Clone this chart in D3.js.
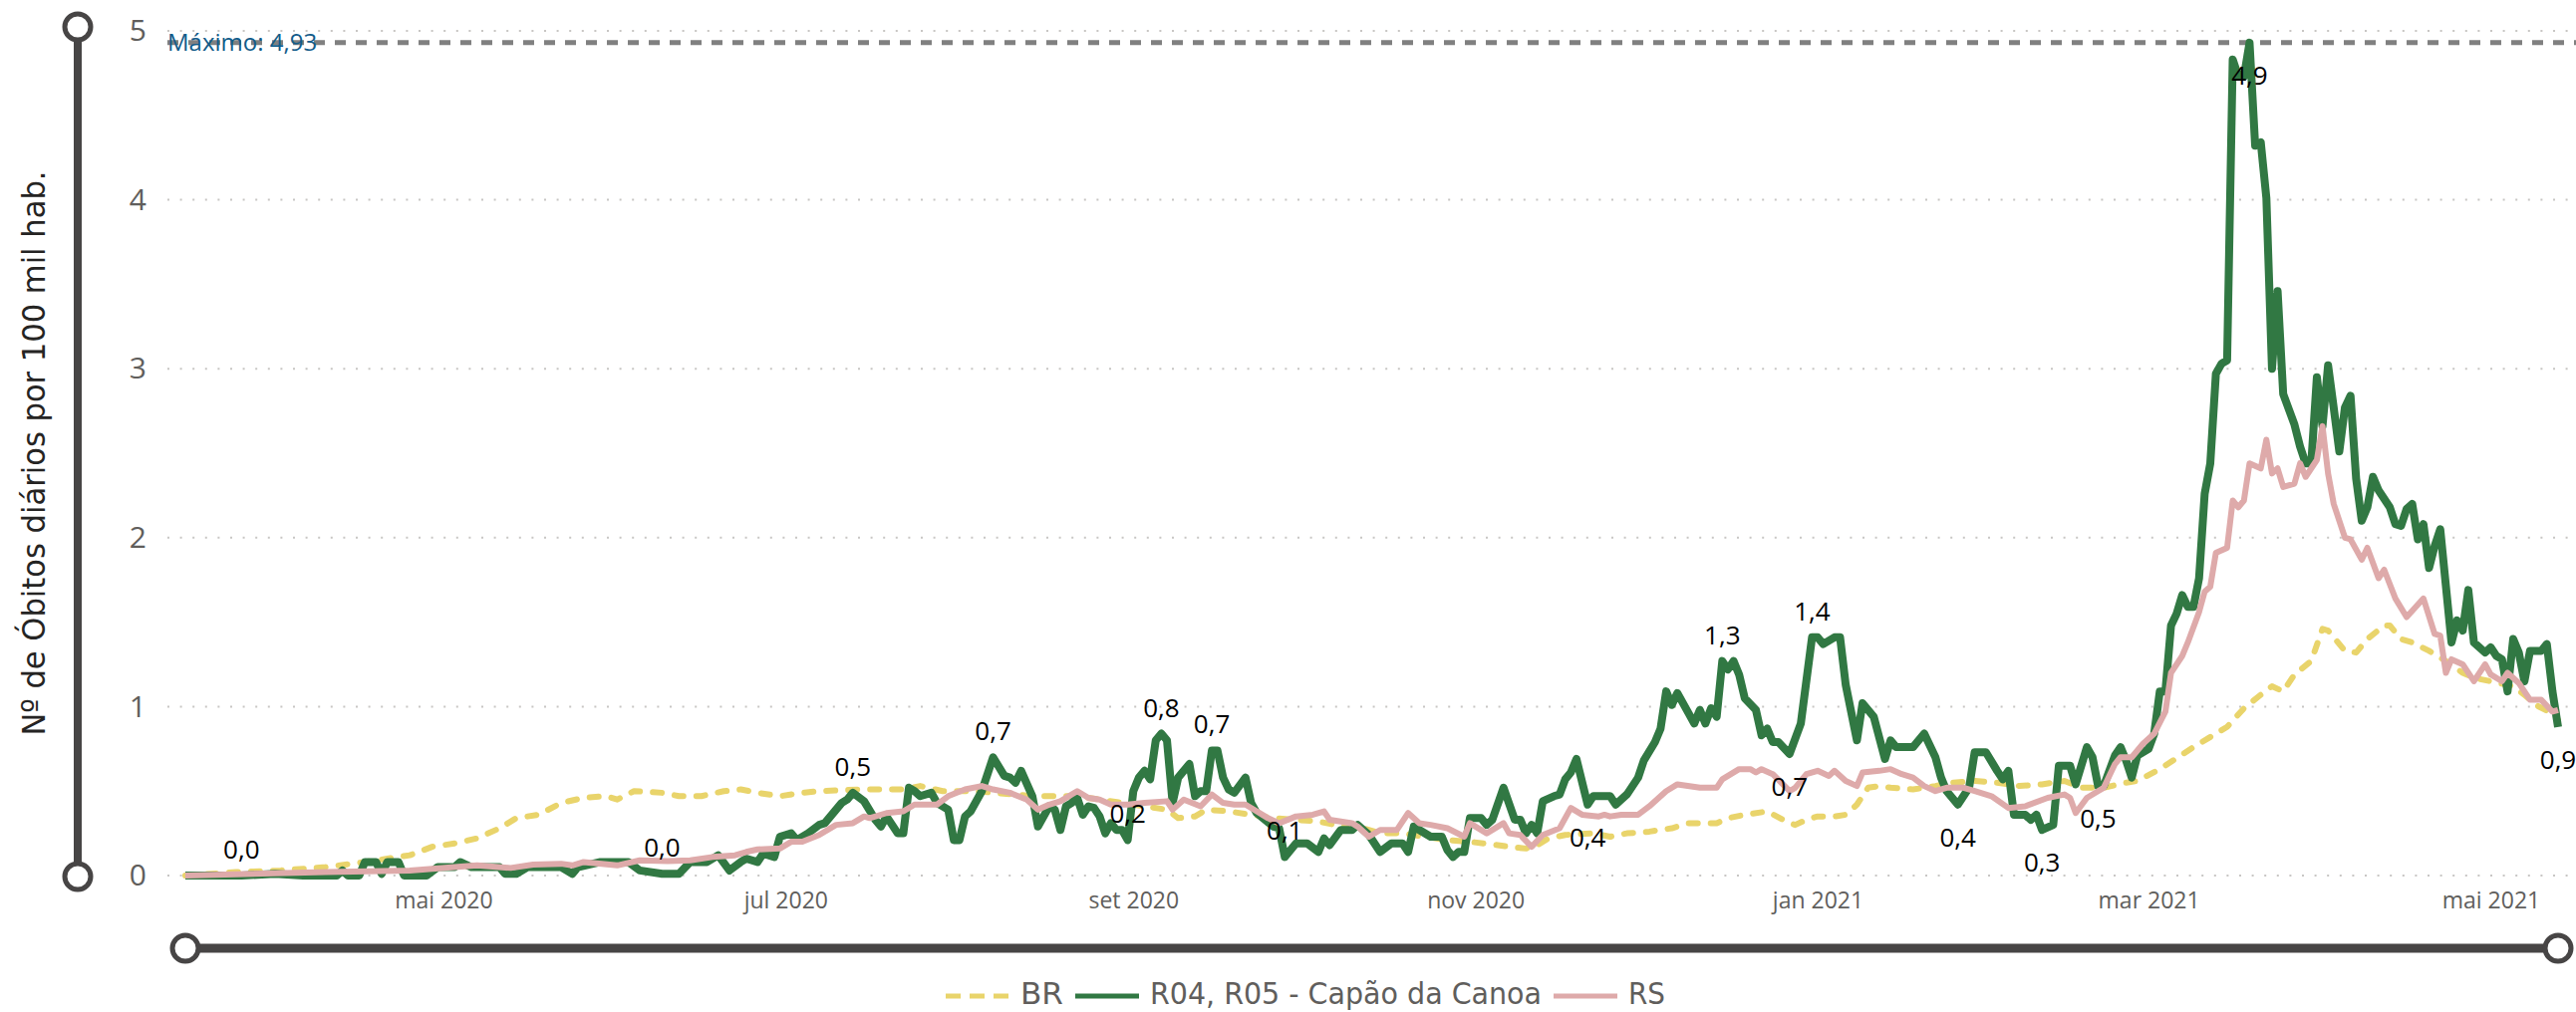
<!DOCTYPE html>
<head>
<meta charset="utf-8">
<script src="https://d3js.org/d3.v7.min.js"></script>
<style>
    body { margin: 0; background: #fff; }
    svg text { font-family: "Open Sans", "Noto Sans", sans-serif; }
    .y-tick text { font-size: 30px; fill: #605E5C; }
    .x-tick text { font-size: 23px; fill: #605E5C; }
    .grid-line { stroke: #C8C6C4; stroke-width: 2; stroke-dasharray: 2, 10.6; }
    .max-line { stroke: #808080; stroke-width: 5; stroke-dasharray: 11, 10; }
    .max-label { font-size: 24px; fill: #135C8A; }
    .data-label { font-size: 26px; fill: #000; text-anchor: middle; }
    .axis-title, .legend text {
        font-family: "Liberation Sans Narrow", "DejaVu Sans Condensed", "Roboto", sans-serif;
        font-stretch: condensed;
    }
    .axis-title { font-size: 32px; fill: #252423; }
    .legend text { font-size: 31px; fill: #605E5C; }
    .slider line { stroke: #474545; }
    .slider circle { fill: #fff; stroke: #474545; stroke-width: 5; }
</style>
</head>
<body>
<script>
    // daily deaths per 100k: [date, value]
    var serieBR = [
        ["2020-03-16",0.00],["2020-03-25",0.02],["2020-04-02",0.03],["2020-04-10",0.05],["2020-04-17",0.08],
        ["2020-04-25",0.12],["2020-04-29",0.17],["2020-05-03",0.19],["2020-05-07",0.22],["2020-05-11",0.28],
        ["2020-05-14",0.34],["2020-05-18",0.36],["2020-05-22",0.43],["2020-05-26",0.46],["2020-05-30",0.47],
        ["2020-06-01",0.45],["2020-06-04",0.50],["2020-06-09",0.49],["2020-06-12",0.47],["2020-06-16",0.47],
        ["2020-06-20",0.50],["2020-06-23",0.51],["2020-06-26",0.49],["2020-06-30",0.47],["2020-07-04",0.49],
        ["2020-07-07",0.50],["2020-07-15",0.51],["2020-07-22",0.51],["2020-07-25",0.53],["2020-07-29",0.50],
        ["2020-08-01",0.50],["2020-08-04",0.50],["2020-08-07",0.49],["2020-08-11",0.48],["2020-08-14",0.47],
        ["2020-08-18",0.47],["2020-08-22",0.47],["2020-08-26",0.45],["2020-08-30",0.43],["2020-09-03",0.41],
        ["2020-09-07",0.39],["2020-09-09",0.34],["2020-09-12",0.35],["2020-09-14",0.39],["2020-09-18",0.38],
        ["2020-09-22",0.36],["2020-09-26",0.34],["2020-09-30",0.33],["2020-10-04",0.32],["2020-10-07",0.30],
        ["2020-10-12",0.28],["2020-10-15",0.25],["2020-10-19",0.25],["2020-10-23",0.23],["2020-10-27",0.21],
        ["2020-10-31",0.20],["2020-11-05",0.18],["2020-11-07",0.17],["2020-11-10",0.16],["2020-11-12",0.18],
        ["2020-11-14",0.22],["2020-11-17",0.24],["2020-11-22",0.25],["2020-11-25",0.23],["2020-11-28",0.25],
        ["2020-12-02",0.26],["2020-12-06",0.28],["2020-12-09",0.31],["2020-12-14",0.31],["2020-12-16",0.34],
        ["2020-12-19",0.36],["2020-12-23",0.38],["2020-12-27",0.31],["2020-12-28",0.30],["2020-12-30",0.33],
        ["2021-01-01",0.35],["2021-01-04",0.35],["2021-01-06",0.36],["2021-01-08",0.42],["2021-01-10",0.52],
        ["2021-01-12",0.53],["2021-01-14",0.52],["2021-01-18",0.51],["2021-01-22",0.53],["2021-01-25",0.55],
        ["2021-01-29",0.56],["2021-02-02",0.55],["2021-02-06",0.53],["2021-02-10",0.54],["2021-02-14",0.56],
        ["2021-02-17",0.52],["2021-02-21",0.52],["2021-02-25",0.55],["2021-02-27",0.56],["2021-03-03",0.63],
        ["2021-03-09",0.76],["2021-03-15",0.88],["2021-03-18",0.99],["2021-03-21",1.07],["2021-03-23",1.12],
        ["2021-03-25",1.09],["2021-03-27",1.19],["2021-03-30",1.27],["2021-04-01",1.46],["2021-04-02",1.45],
        ["2021-04-05",1.33],["2021-04-07",1.32],["2021-04-09",1.40],["2021-04-12",1.48],["2021-04-13",1.48],
        ["2021-04-15",1.40],["2021-04-17",1.38],["2021-04-20",1.33],["2021-04-23",1.27],["2021-04-26",1.20],
        ["2021-04-28",1.17],["2021-05-01",1.15],["2021-05-05",1.12],["2021-05-07",1.07],["2021-05-09",1.01],
        ["2021-05-12",0.96],["2021-05-13",0.92]
    ];

    var serieR04 = [
        ["2020-03-16",0.00],["2020-03-26",0.00],["2020-04-01",0.01],["2020-04-06",0.00],["2020-04-12",0.00],
        ["2020-04-13",0.03],["2020-04-14",0.00],["2020-04-16",0.00],["2020-04-17",0.08],["2020-04-19",0.08],
        ["2020-04-20",0.01],["2020-04-21",0.08],["2020-04-23",0.08],["2020-04-24",0.00],["2020-04-28",0.00],
        ["2020-04-30",0.05],["2020-05-03",0.05],["2020-05-04",0.08],["2020-05-06",0.05],["2020-05-11",0.05],
        ["2020-05-12",0.01],["2020-05-14",0.01],["2020-05-16",0.05],["2020-05-22",0.05],["2020-05-24",0.01],
        ["2020-05-25",0.05],["2020-05-29",0.08],["2020-06-03",0.08],["2020-06-05",0.03],["2020-06-09",0.01],
        ["2020-06-12",0.01],["2020-06-14",0.08],["2020-06-17",0.08],["2020-06-19",0.12],["2020-06-21",0.03],
        ["2020-06-23",0.08],["2020-06-24",0.10],["2020-06-26",0.08],["2020-06-27",0.13],["2020-06-29",0.11],
        ["2020-06-30",0.23],["2020-07-02",0.25],["2020-07-03",0.21],["2020-07-05",0.25],["2020-07-07",0.30],
        ["2020-07-08",0.31],["2020-07-11",0.43],["2020-07-12",0.45],["2020-07-13",0.49],["2020-07-15",0.44],
        ["2020-07-17",0.33],["2020-07-18",0.29],["2020-07-19",0.35],["2020-07-21",0.25],["2020-07-22",0.25],
        ["2020-07-23",0.52],["2020-07-24",0.50],["2020-07-25",0.47],["2020-07-27",0.49],["2020-07-28",0.43],
        ["2020-07-30",0.39],["2020-07-31",0.21],["2020-08-01",0.21],["2020-08-02",0.35],["2020-08-03",0.38],
        ["2020-08-05",0.50],["2020-08-07",0.70],["2020-08-09",0.59],["2020-08-10",0.58],["2020-08-11",0.55],
        ["2020-08-12",0.62],["2020-08-14",0.47],["2020-08-15",0.29],["2020-08-17",0.41],["2020-08-18",0.39],
        ["2020-08-19",0.27],["2020-08-20",0.41],["2020-08-21",0.43],["2020-08-22",0.46],["2020-08-23",0.36],
        ["2020-08-24",0.41],["2020-08-25",0.40],["2020-08-26",0.35],["2020-08-27",0.25],["2020-08-28",0.31],
        ["2020-08-29",0.27],["2020-08-30",0.27],["2020-08-31",0.21],["2020-09-01",0.50],["2020-09-02",0.58],
        ["2020-09-03",0.62],["2020-09-04",0.57],["2020-09-05",0.80],["2020-09-06",0.84],["2020-09-07",0.80],
        ["2020-09-08",0.43],["2020-09-09",0.58],["2020-09-11",0.66],["2020-09-12",0.47],["2020-09-13",0.50],
        ["2020-09-14",0.50],["2020-09-15",0.74],["2020-09-16",0.74],["2020-09-17",0.58],["2020-09-18",0.51],
        ["2020-09-19",0.49],["2020-09-21",0.58],["2020-09-22",0.43],["2020-09-23",0.37],["2020-09-26",0.29],
        ["2020-09-27",0.28],["2020-09-28",0.11],["2020-09-30",0.19],["2020-10-02",0.19],["2020-10-04",0.14],
        ["2020-10-05",0.22],["2020-10-06",0.18],["2020-10-08",0.27],["2020-10-10",0.27],["2020-10-11",0.30],
        ["2020-10-13",0.24],["2020-10-15",0.14],["2020-10-17",0.19],["2020-10-19",0.19],["2020-10-20",0.14],
        ["2020-10-21",0.29],["2020-10-22",0.27],["2020-10-24",0.23],["2020-10-26",0.23],["2020-10-27",0.15],
        ["2020-10-28",0.11],["2020-10-29",0.14],["2020-10-30",0.14],["2020-10-31",0.34],["2020-11-02",0.34],
        ["2020-11-03",0.30],["2020-11-04",0.33],["2020-11-06",0.52],["2020-11-08",0.33],["2020-11-09",0.33],
        ["2020-11-10",0.25],["2020-11-11",0.30],["2020-11-12",0.25],["2020-11-13",0.44],["2020-11-15",0.47],
        ["2020-11-16",0.48],["2020-11-17",0.57],["2020-11-18",0.61],["2020-11-19",0.69],["2020-11-21",0.42],
        ["2020-11-22",0.47],["2020-11-25",0.47],["2020-11-26",0.42],["2020-11-28",0.48],["2020-11-30",0.58],
        ["2020-12-01",0.68],["2020-12-03",0.79],["2020-12-04",0.87],["2020-12-05",1.09],["2020-12-06",1.01],
        ["2020-12-07",1.08],["2020-12-09",0.96],["2020-12-10",0.90],["2020-12-11",0.98],["2020-12-12",0.90],
        ["2020-12-13",0.99],["2020-12-14",0.94],["2020-12-15",1.27],["2020-12-16",1.22],["2020-12-17",1.27],
        ["2020-12-18",1.19],["2020-12-19",1.05],["2020-12-21",0.98],["2020-12-22",0.83],["2020-12-23",0.87],
        ["2020-12-24",0.79],["2020-12-25",0.79],["2020-12-27",0.72],["2020-12-29",0.90],["2020-12-31",1.41],
        ["2021-01-01",1.41],["2021-01-02",1.37],["2021-01-04",1.41],["2021-01-05",1.41],["2021-01-06",1.13],
        ["2021-01-08",0.80],["2021-01-09",1.02],["2021-01-11",0.94],["2021-01-13",0.69],["2021-01-14",0.80],
        ["2021-01-15",0.76],["2021-01-18",0.76],["2021-01-20",0.84],["2021-01-22",0.70],["2021-01-23",0.58],
        ["2021-01-24",0.50],["2021-01-26",0.42],["2021-01-28",0.52],["2021-01-29",0.73],["2021-01-31",0.73],
        ["2021-02-02",0.62],["2021-02-03",0.57],["2021-02-04",0.62],["2021-02-05",0.36],["2021-02-07",0.36],
        ["2021-02-08",0.33],["2021-02-09",0.36],["2021-02-10",0.27],["2021-02-12",0.30],["2021-02-13",0.65],
        ["2021-02-15",0.65],["2021-02-16",0.54],["2021-02-18",0.76],["2021-02-19",0.70],["2021-02-20",0.53],
        ["2021-02-21",0.53],["2021-02-23",0.71],["2021-02-24",0.76],["2021-02-25",0.68],["2021-02-26",0.58],
        ["2021-02-27",0.71],["2021-03-01",0.75],["2021-03-02",0.84],["2021-03-03",1.09],["2021-03-04",1.09],
        ["2021-03-05",1.48],["2021-03-06",1.55],["2021-03-07",1.66],["2021-03-08",1.59],["2021-03-09",1.59],
        ["2021-03-10",1.76],["2021-03-11",2.26],["2021-03-12",2.44],["2021-03-13",2.97],["2021-03-14",3.03],
        ["2021-03-15",3.05],["2021-03-16",4.83],["2021-03-17",4.73],["2021-03-18",4.73],["2021-03-19",4.93],
        ["2021-03-20",4.32],["2021-03-21",4.34],["2021-03-22",4.01],["2021-03-23",3.00],["2021-03-24",3.46],
        ["2021-03-25",2.85],["2021-03-27",2.67],["2021-03-28",2.54],["2021-03-29",2.44],["2021-03-30",2.44],
        ["2021-03-31",2.95],["2021-04-01",2.66],["2021-04-02",3.02],["2021-04-03",2.77],["2021-04-04",2.51],
        ["2021-04-05",2.77],["2021-04-06",2.84],["2021-04-07",2.35],["2021-04-08",2.10],["2021-04-09",2.18],
        ["2021-04-10",2.36],["2021-04-11",2.28],["2021-04-13",2.18],["2021-04-14",2.08],["2021-04-15",2.07],
        ["2021-04-16",2.17],["2021-04-17",2.20],["2021-04-18",1.99],["2021-04-19",2.08],["2021-04-20",1.82],
        ["2021-04-21",1.95],["2021-04-22",2.05],["2021-04-24",1.38],["2021-04-25",1.51],["2021-04-26",1.45],
        ["2021-04-27",1.69],["2021-04-28",1.38],["2021-04-30",1.32],["2021-05-01",1.35],["2021-05-02",1.30],
        ["2021-05-03",1.28],["2021-05-04",1.09],["2021-05-05",1.40],["2021-05-06",1.32],["2021-05-07",1.15],
        ["2021-05-08",1.33],["2021-05-10",1.33],["2021-05-11",1.37],["2021-05-12",1.09],["2021-05-13",0.88]
    ];

    var serieRS = [
        ["2020-03-16",0.00],["2020-04-10",0.02],["2020-04-25",0.03],["2020-04-29",0.04],["2020-05-07",0.06],
        ["2020-05-13",0.045],["2020-05-17",0.065],["2020-05-22",0.07],["2020-05-24",0.06],["2020-05-26",0.08],
        ["2020-06-01",0.06],["2020-06-05",0.09],["2020-06-10",0.085],["2020-06-14",0.09],["2020-06-18",0.11],
        ["2020-06-22",0.12],["2020-06-24",0.14],["2020-06-26",0.155],["2020-06-30",0.16],["2020-07-02",0.20],
        ["2020-07-04",0.20],["2020-07-07",0.24],["2020-07-10",0.30],["2020-07-13",0.31],["2020-07-15",0.35],
        ["2020-07-16",0.34],["2020-07-19",0.37],["2020-07-22",0.38],["2020-07-24",0.42],["2020-07-28",0.42],
        ["2020-07-30",0.47],["2020-08-02",0.51],["2020-08-05",0.53],["2020-08-07",0.51],["2020-08-10",0.49],
        ["2020-08-13",0.45],["2020-08-15",0.39],["2020-08-17",0.42],["2020-08-19",0.44],["2020-08-22",0.50],
        ["2020-08-24",0.46],["2020-08-26",0.45],["2020-08-28",0.42],["2020-08-31",0.42],["2020-09-03",0.43],
        ["2020-09-07",0.44],["2020-09-08",0.39],["2020-09-10",0.45],["2020-09-13",0.41],["2020-09-15",0.48],
        ["2020-09-17",0.43],["2020-09-19",0.42],["2020-09-21",0.42],["2020-09-23",0.38],["2020-09-25",0.34],
        ["2020-09-27",0.31],["2020-09-30",0.35],["2020-10-03",0.36],["2020-10-05",0.38],["2020-10-06",0.33],
        ["2020-10-10",0.31],["2020-10-11",0.29],["2020-10-13",0.23],["2020-10-15",0.27],["2020-10-18",0.27],
        ["2020-10-20",0.37],["2020-10-22",0.31],["2020-10-24",0.30],["2020-10-27",0.28],["2020-10-30",0.23],
        ["2020-10-31",0.31],["2020-11-03",0.25],["2020-11-06",0.31],["2020-11-07",0.25],["2020-11-09",0.24],
        ["2020-11-11",0.17],["2020-11-13",0.24],["2020-11-16",0.28],["2020-11-18",0.40],["2020-11-20",0.36],
        ["2020-11-23",0.35],["2020-11-24",0.36],["2020-11-25",0.35],["2020-11-27",0.36],["2020-11-30",0.36],
        ["2020-12-02",0.41],["2020-12-05",0.50],["2020-12-07",0.54],["2020-12-11",0.52],["2020-12-14",0.52],
        ["2020-12-15",0.57],["2020-12-18",0.63],["2020-12-20",0.63],["2020-12-21",0.61],["2020-12-22",0.63],
        ["2020-12-24",0.60],["2020-12-27",0.50],["2020-12-28",0.52],["2020-12-30",0.60],["2021-01-01",0.62],
        ["2021-01-03",0.59],["2021-01-04",0.62],["2021-01-06",0.56],["2021-01-08",0.53],["2021-01-09",0.61],
        ["2021-01-12",0.62],["2021-01-14",0.63],["2021-01-16",0.60],["2021-01-18",0.58],["2021-01-20",0.53],
        ["2021-01-22",0.50],["2021-01-24",0.52],["2021-01-27",0.52],["2021-01-29",0.50],["2021-02-01",0.47],
        ["2021-02-04",0.40],["2021-02-07",0.41],["2021-02-11",0.46],["2021-02-14",0.48],["2021-02-15",0.46],
        ["2021-02-16",0.37],["2021-02-18",0.46],["2021-02-20",0.50],["2021-02-21",0.52],["2021-02-23",0.66],
        ["2021-02-24",0.70],["2021-02-26",0.70],["2021-02-28",0.78],["2021-03-02",0.84],["2021-03-04",0.97],
        ["2021-03-05",1.20],["2021-03-07",1.30],["2021-03-08",1.38],["2021-03-10",1.56],["2021-03-11",1.68],
        ["2021-03-12",1.71],["2021-03-13",1.91],["2021-03-15",1.94],["2021-03-16",2.22],["2021-03-17",2.18],
        ["2021-03-18",2.22],["2021-03-19",2.44],["2021-03-21",2.41],["2021-03-22",2.58],["2021-03-23",2.38],
        ["2021-03-24",2.41],["2021-03-25",2.30],["2021-03-27",2.32],["2021-03-28",2.44],["2021-03-29",2.36],
        ["2021-03-31",2.46],["2021-04-01",2.66],["2021-04-02",2.38],["2021-04-03",2.20],["2021-04-05",2.00],
        ["2021-04-06",1.99],["2021-04-08",1.87],["2021-04-09",1.94],["2021-04-11",1.76],["2021-04-12",1.81],
        ["2021-04-14",1.64],["2021-04-16",1.53],["2021-04-19",1.64],["2021-04-21",1.43],["2021-04-22",1.42],
        ["2021-04-23",1.20],["2021-04-24",1.28],["2021-04-26",1.25],["2021-04-28",1.15],["2021-04-30",1.25],
        ["2021-05-01",1.19],["2021-05-03",1.15],["2021-05-04",1.20],["2021-05-06",1.14],["2021-05-08",1.04],
        ["2021-05-10",1.04],["2021-05-12",0.97],["2021-05-13",0.98]
    ];

    var legendNames = ["BR", "R04, R05 - Capão da Canoa", "RS"];
    var yTicks = [0, 1, 2, 3, 4, 5];
    var xTicks = ["2020-05-01", "2020-07-01", "2020-09-01", "2020-11-01", "2021-01-01", "2021-03-01", "2021-05-01"];
    var maxValue = 4.93;
    // dates of the R04 points that carry a data label, and the ones drawn under the point
    var labelDates = ["2020-03-26", "2020-06-09", "2020-07-13", "2020-08-07", "2020-08-31", "2020-09-06",
        "2020-09-15", "2020-09-28", "2020-11-21", "2020-12-15", "2020-12-27", "2020-12-31", "2021-01-26",
        "2021-02-10", "2021-02-20", "2021-03-19", "2021-05-13"];
    var labelsBelow = ["2020-11-21", "2020-12-27", "2021-01-26", "2021-02-10", "2021-02-20", "2021-03-19", "2021-05-13"];

    var parse = d3.timeParse("%Y-%m-%d");
    var ptBR = d3.timeFormatLocale({
        dateTime: "%d/%m/%Y %H:%M:%S", date: "%d/%m/%Y", time: "%H:%M:%S", periods: ["AM", "PM"],
        days: ["domingo", "segunda", "terça", "quarta", "quinta", "sexta", "sábado"],
        shortDays: ["dom", "seg", "ter", "qua", "qui", "sex", "sáb"],
        months: ["janeiro", "fevereiro", "março", "abril", "maio", "junho", "julho", "agosto", "setembro", "outubro", "novembro", "dezembro"],
        shortMonths: ["jan", "fev", "mar", "abr", "mai", "jun", "jul", "ago", "set", "out", "nov", "dez"]
    });
    var fmtMonth = ptBR.format("%b %Y");
    var fmtNum = function(v) { return d3.format(".1f")(v).replace(".", ","); };

    var toRows = function(arr) { return arr.map(function(d) { return {date: parse(d[0]), v: d[1]}; }); };

    var series = [
        {name: legendNames[0], rows: toRows(serieBR), color: "#E9D46B", width: 6, dash: "9,13"},
        {name: legendNames[1], rows: toRows(serieR04), color: "#317843", width: 8, dash: null},
        {name: legendNames[2], rows: toRows(serieRS), color: "#DEAAAA", width: 6, dash: null}
    ];

    var W = 2585, H = 1016;
    var svg = d3.select("body").append("svg")
        .attr("width", W)
        .attr("height", H);

    var allRows = series[0].rows.concat(series[1].rows, series[2].rows);
    var x = d3.scaleTime()
        .domain(d3.extent(allRows, function(d) { return d.date; }))
        .range([186, 2567]);
    var y = d3.scaleLinear()
        .domain([0, 5])
        .range([879, 31]);

    var gridLeft = 168, gridRight = 2578;

    // grid lines
    svg.append("g").selectAll("line")
        .data(yTicks)
        .enter().append("line")
        .attr("class", "grid-line")
        .attr("x1", gridLeft).attr("x2", gridRight)
        .attr("y1", function(d) { return y(d); })
        .attr("y2", function(d) { return y(d); });

    // y axis labels
    var yAxis = d3.axisLeft(y).tickValues(yTicks).tickSize(0).tickPadding(0)
        .tickFormat(function(d) { return d; });
    svg.append("g")
        .attr("class", "y-tick")
        .attr("transform", "translate(147,0)")
        .call(yAxis)
        .select(".domain").remove();

    // x axis labels
    var xAxis = d3.axisBottom(x).tickValues(xTicks.map(parse)).tickSize(0).tickPadding(17)
        .tickFormat(fmtMonth);
    svg.append("g")
        .attr("class", "x-tick")
        .attr("transform", "translate(0," + y(0) + ")")
        .call(xAxis)
        .select(".domain").remove();

    // maximum reference line
    svg.append("line")
        .attr("class", "max-line")
        .attr("x1", gridLeft).attr("x2", W)
        .attr("y1", y(maxValue)).attr("y2", y(maxValue));

    // series
    var line = d3.line()
        .x(function(d) { return x(d.date); })
        .y(function(d) { return y(d.v); });

    svg.append("g").selectAll("path")
        .data(series)
        .enter().append("path")
        .attr("d", function(s) { return line(s.rows); })
        .attr("fill", "none")
        .attr("stroke", function(s) { return s.color; })
        .attr("stroke-width", function(s) { return s.width; })
        .attr("stroke-dasharray", function(s) { return s.dash; })
        .attr("stroke-linecap", function(s) { return s.dash ? "round" : "butt"; })
        .attr("stroke-linejoin", "round");

    svg.append("text")
        .attr("class", "max-label")
        .attr("x", gridLeft)
        .attr("y", y(maxValue) + 8)
        .text("Máximo: " + d3.format(".2f")(maxValue).replace(".", ","));

    // data labels on R04 line
    var r04 = series[1].rows;
    var labelRows = labelDates.map(function(s) {
        var t = parse(s).getTime();
        var row = r04.find(function(d) { return d.date.getTime() === t; });
        return {row: row, below: labelsBelow.indexOf(s) >= 0};
    });
    svg.append("g").selectAll("text")
        .data(labelRows)
        .enter().append("text")
        .attr("class", "data-label")
        .attr("x", function(d) { return x(d.row.date); })
        .attr("y", function(d) { return y(d.row.v) + (d.below ? 42 : -17); })
        .text(function(d) { return fmtNum(d.row.v); });

    // axis title
    svg.append("text")
        .attr("class", "axis-title")
        .attr("transform", "translate(45," + ((y(0) + y(5)) / 2) + ") rotate(-90)")
        .attr("text-anchor", "middle")
        .attr("textLength", 567)
        .attr("lengthAdjust", "spacingAndGlyphs")
        .text("Nº de Óbitos diários por 100 mil hab.");

    // range sliders (vertical and horizontal)
    var slider = svg.append("g").attr("class", "slider");
    var sx = 78;
    slider.append("line")
        .attr("x1", sx).attr("x2", sx)
        .attr("y1", y(5) - 4).attr("y2", y(0) + 1)
        .attr("stroke-width", 8);
    slider.selectAll("circle.v")
        .data([y(5) - 4, y(0) + 1])
        .enter().append("circle")
        .attr("class", "v")
        .attr("cx", sx).attr("cy", function(d) { return d; })
        .attr("r", 13);

    var sy = 952;
    slider.append("line")
        .attr("x1", x.range()[0]).attr("x2", x.range()[1])
        .attr("y1", sy).attr("y2", sy)
        .attr("stroke-width", 9);
    slider.selectAll("circle.h")
        .data(x.range())
        .enter().append("circle")
        .attr("class", "h")
        .attr("cx", function(d) { return d; }).attr("cy", sy)
        .attr("r", 13);

    // legend
    var legendWidths = [43, 393, 37];
    var legend = svg.append("g").attr("class", "legend");
    var lx = 949, ly = 1000, swatch = 64;
    series.forEach(function(s, i) {
        legend.append("line")
            .attr("x1", lx).attr("x2", lx + swatch)
            .attr("y1", ly).attr("y2", ly)
            .attr("stroke", s.color)
            .attr("stroke-width", 5)
            .attr("stroke-dasharray", s.dash ? "15,9" : null);
        lx += swatch + 11;
        legend.append("text")
            .attr("x", lx)
            .attr("y", ly + 8)
            .attr("textLength", legendWidths[i])
            .attr("lengthAdjust", "spacingAndGlyphs")
            .text(s.name);
        lx += legendWidths[i] + 12;
    });
</script>
</body>
</html>
